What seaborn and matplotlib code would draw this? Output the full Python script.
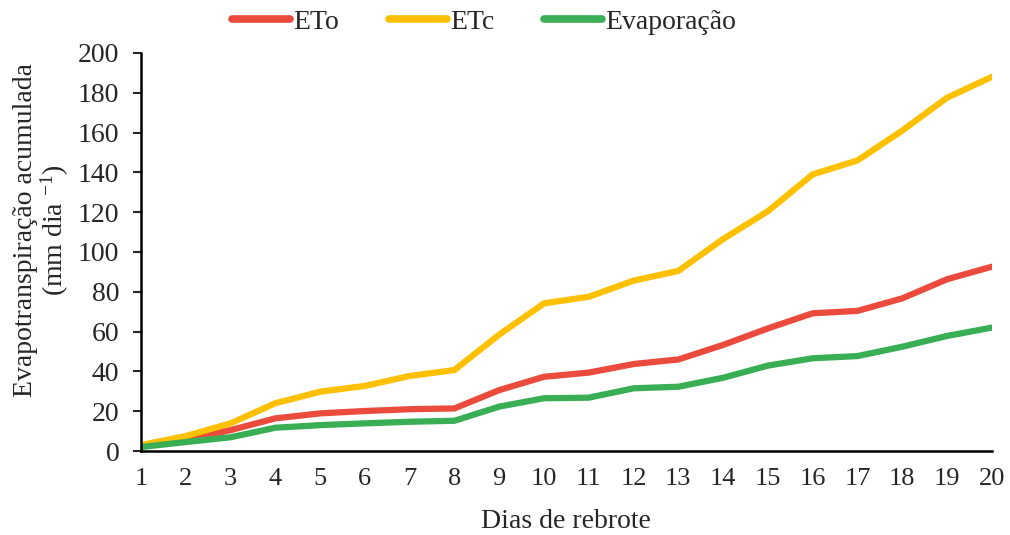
import matplotlib
matplotlib.use("Agg")
import matplotlib.pyplot as plt
import seaborn as sns
import pandas as pd
from matplotlib.ticker import FixedLocator

dias = list(range(1, 21))
eto = [2.5, 5.5, 10.5, 16.4, 18.9, 20.1, 21.0, 21.4, 30.6, 37.3, 39.4, 43.7, 46.0, 53.3, 61.6, 69.2, 70.4, 76.7, 86.3, 92.6]
etc = [3.0, 7.5, 13.9, 24.0, 29.8, 32.7, 37.7, 40.7, 58.5, 74.2, 77.5, 85.6, 90.5, 106.5, 120.5, 139.0, 146.0, 161.0, 177.5, 188.0]
evap = [2.0, 4.5, 6.9, 11.7, 13.0, 13.9, 14.7, 15.2, 22.3, 26.5, 26.8, 31.5, 32.3, 36.8, 42.9, 46.6, 47.7, 52.4, 57.8, 62.0]
series_names = ["ETo", "ETc", "Evaporação"]
colors = ["#EA4B3C", "#FFC000", "#3AAE55"]

df = pd.concat([
    pd.DataFrame({"Dia": dias, "Valor": v, "Serie": n})
    for n, v in zip(series_names, [eto, etc, evap])
])

sns.set_style("white")
plt.rcParams["font.family"] = ["Liberation Serif", "DejaVu Serif"]
plt.rcParams["mathtext.default"] = "regular"

FS = 20

fig = plt.figure(figsize=(10.1, 5.35), dpi=100)
ax = fig.add_axes([0.1396, 0.157, 0.8424, 0.744])
sns.lineplot(data=df, x="Dia", y="Valor", hue="Serie", palette=colors,
             hue_order=series_names, linewidth=4.5, ax=ax, legend=True)

ax.set_xlim(1, 20)
ax.set_ylim(0, 200)
ax.set_xticks(dias)
ax.set_xticklabels([str(d) for d in dias])
ax.xaxis.set_minor_locator(FixedLocator([1, 6, 11, 16]))
ax.tick_params(axis="x", which="major", length=0, pad=12, labelsize=FS - 1)
ax.tick_params(axis="x", which="minor", length=5, width=1.5, direction="out", bottom=True)
ax.set_yticks(range(0, 201, 20))
ax.tick_params(axis="y", which="major", length=5.5, width=1.5, direction="out", left=True, labelsize=FS, pad=10)

for s in ["top", "right"]:
    ax.spines[s].set_visible(False)
for s in ["left", "bottom"]:
    ax.spines[s].set_linewidth(1.8)
    ax.spines[s].set_color("black")

ax.set_xlabel("Dias de rebrote", fontsize=FS, labelpad=14)
ax.set_ylabel("Evapotranspiração acumulada\n(mm dia $^{-1}$)", fontsize=FS, linespacing=1.05)
ax.yaxis.set_label_coords(-0.082, 0.555)

leg = ax.legend(loc="lower center", bbox_to_anchor=(0.403, 1.0), ncol=3, frameon=False,
                fontsize=FS, handlelength=2.1, columnspacing=1.8, handletextpad=0.1,
                borderaxespad=0.25)
for line in leg.get_lines():
    line.set_linewidth(5.5)
    line.set_solid_capstyle("round")

fig.savefig("out.png", dpi=100)
